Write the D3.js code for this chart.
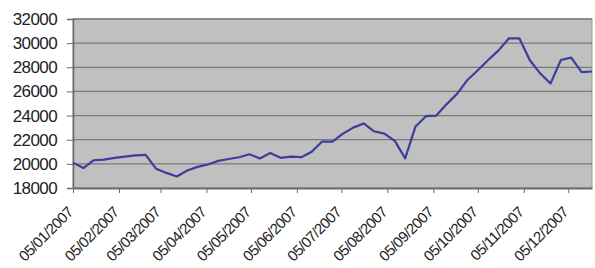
<!DOCTYPE html>
<html>
<head>
<meta charset="utf-8">
<script src="https://cdn.jsdelivr.net/npm/d3@7"></script>
<style>
  html, body { margin: 0; padding: 0; background: #fff; }
  svg { display: block; }
  text { font-family: "Liberation Sans", Arial, sans-serif; fill: #222; }
</style>
</head>
<body>
<svg id="chart" width="595" height="268"></svg>
<script>
// Weekly observations (Fridays), starting 05/01/2007
const startDate = "2007-01-05";
const values = [
  20100, 19650, 20300, 20350, 20500, 20600, 20700, 20750, 19600, 19250,
  18950, 19450, 19750, 19950, 20250, 20400, 20550, 20800, 20450, 20900,
  20500, 20600, 20550, 21000, 21850, 21850, 22500, 23000, 23350, 22700,
  22500, 21900, 20450, 23100, 23950, 24000, 24950, 25800, 26950, 27750,
  28600, 29400, 30400, 30400, 28600, 27500, 26650, 28600, 28800, 27600,
  27650
];
const yTicks = [18000, 20000, 22000, 24000, 26000, 28000, 30000, 32000];
const xTickLabels = ["05/01/2007","05/02/2007","05/03/2007","05/04/2007","05/05/2007","05/06/2007",
                     "05/07/2007","05/08/2007","05/09/2007","05/10/2007","05/11/2007","05/12/2007"];

const parse = d3.timeParse("%d/%m/%Y");
const t0 = d3.timeParse("%Y-%m-%d")(startDate);
const data = values.map((v, i) => ({ date: d3.timeDay.offset(t0, 7 * i), value: v }));
const tickDates = xTickLabels.map(parse);

const margin = { left: 73, right: 3, top: 19, bottom: 80 };
const W = 595, H = 268;
const svg = d3.select("#chart");

const x = d3.scaleTime()
  .domain([data[0].date, data[data.length - 1].date])
  .range([margin.left, W - margin.right]);
const y = d3.scaleLinear()
  .domain([18000, 32000])
  .range([H - margin.bottom + 0, margin.top]);

// plot area
svg.append("rect")
  .attr("x", margin.left).attr("y", margin.top)
  .attr("width", W - margin.right - margin.left)
  .attr("height", y(18000) - margin.top)
  .attr("fill", "#c0c0c0")
  .attr("stroke", "#9a9a9a").attr("stroke-width", 1);

// gridlines
svg.append("g")
  .selectAll("line")
  .data(yTicks.filter(d => d > 18000))
  .join("line")
  .attr("x1", margin.left).attr("x2", W - margin.right)
  .attr("y1", d => y(d)).attr("y2", d => y(d))
  .attr("stroke", "#7a7a7a").attr("stroke-width", 1.3);

// y axis
const yAxis = svg.append("g")
  .attr("transform", `translate(${margin.left},0)`)
  .call(d3.axisLeft(y).tickValues(yTicks).tickFormat(d3.format("d")).tickSize(6).tickPadding(10));
yAxis.select(".domain").attr("stroke", "#6a6a6a").attr("stroke-width", 1.5);
yAxis.selectAll(".tick line").attr("stroke", "#6a6a6a");
yAxis.selectAll("text").attr("font-size", 17).attr("fill", "#222").attr("letter-spacing", -0.6);

// x axis
const xAxis = svg.append("g")
  .attr("transform", `translate(0,${y(18000)})`)
  .call(d3.axisBottom(x).tickValues(tickDates).tickFormat(d3.timeFormat("%d/%m/%Y")).tickSize(5).tickSizeOuter(0));
xAxis.select(".domain").attr("stroke", "#6a6a6a").attr("stroke-width", 2);
xAxis.selectAll(".tick line").attr("stroke", "#6a6a6a");
xAxis.selectAll("text")
  .attr("font-size", 15)
  .attr("letter-spacing", -0.6)
  .attr("fill", "#444")
  .attr("text-anchor", "end")
  .attr("dy", "0.35em")
  .attr("transform", "translate(-9,16) rotate(-45)");

// line
svg.append("path")
  .datum(data)
  .attr("fill", "none")
  .attr("stroke", "#3d3d9c")
  .attr("stroke-width", 2.2)
  .attr("stroke-linejoin", "round")
  .attr("d", d3.line().x(d => x(d.date)).y(d => y(d.value)));
</script>
</body>
</html>
